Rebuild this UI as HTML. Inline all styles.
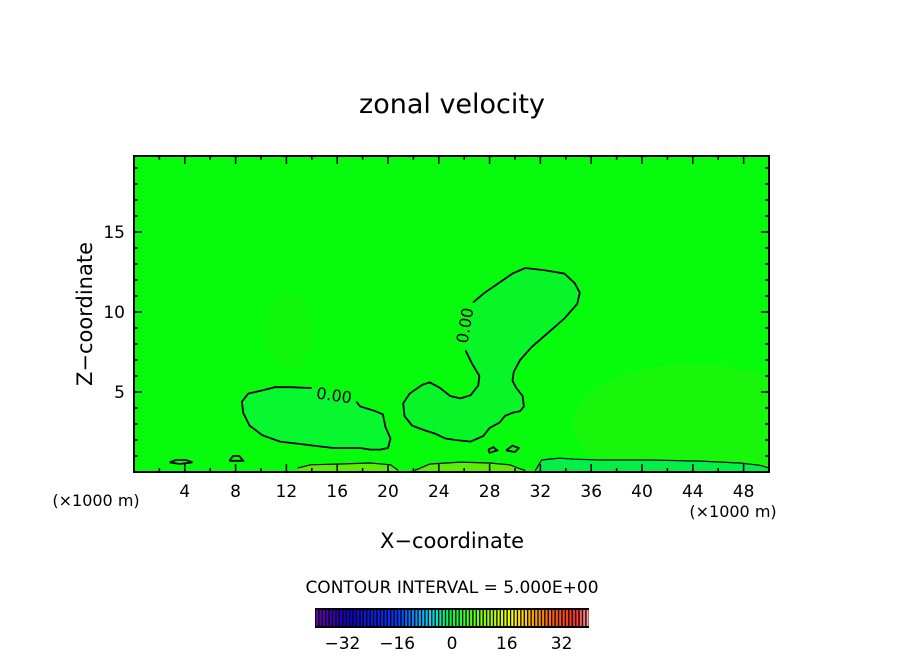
<!DOCTYPE html>
<html><head><meta charset="utf-8"><style>
body{margin:0;background:#fff;}
svg text{font-family:"DejaVu Sans","Liberation Sans",sans-serif;fill:#000;}
</style></head><body>
<svg id="c" width="904" height="654" viewBox="0 0 904 654" xmlns="http://www.w3.org/2000/svg">
<defs><clipPath id="pc"><rect x="134" y="156" width="635" height="316"/></clipPath></defs>
<text x="452" y="113" font-size="27" text-anchor="middle">zonal velocity</text>
<g id="plot"><g id="inner" clip-path="url(#pc)"></g></g>
<text x="452" y="548" font-size="21" text-anchor="middle">X−coordinate</text>
<text transform="translate(92,314) rotate(-90)" font-size="21" text-anchor="middle">Z−coordinate</text>
<text x="96" y="506" font-size="16" text-anchor="middle">(×1000 m)</text>
<text x="733" y="517" font-size="16" text-anchor="middle">(×1000 m)</text>
<text x="452" y="593" font-size="17" text-anchor="middle">CONTOUR INTERVAL = 5.000E+00</text>
<g id="cbar"></g>
</svg>
<script>
const xTicks=[4,8,12,16,20,24,28,32,36,40,44,48];
const yTicks=[5,10,15];
const cbarTicks=[-32,-16,0,16,32];
const xRange=[0,50], zRange=[0,19.75];
// contour lines (data coords: x km, z km), value 0.00
const blobLeft=[[17.5,4.4],[17.8,4.1],[19.0,3.8],[19.6,3.6],[19.8,2.8],[20.2,2.1],[20.0,1.5],[19.4,1.4],[18.6,1.4],[17.8,1.5],[16.6,1.5],[15.7,1.5],[14.6,1.6],[13.1,1.75],[11.5,1.9],[10.1,2.3],[9.1,2.9],[8.6,3.7],[8.5,4.4],[9.0,4.9],[10.1,5.1],[11.1,5.3],[12.3,5.3],[13.9,5.25],[14.0,5.25]];
const blobRight=[[26.1,7.6],[26.6,6.8],[27.2,6.0],[27.1,5.4],[26.5,4.8],[25.7,4.6],[24.9,4.75],[24.1,5.25],[23.3,5.6],[22.7,5.45],[21.7,4.9],[21.2,4.3],[21.3,3.5],[21.9,2.9],[22.9,2.6],[23.7,2.4],[24.5,2.1],[25.3,2.0],[26.5,1.9],[27.5,2.25],[28.0,2.75],[28.8,3.1],[29.2,3.5],[29.8,3.7],[30.4,3.8],[30.7,4.1],[30.6,4.75],[30.1,5.25],[29.8,5.7],[29.9,6.25],[30.4,7.0],[31.3,7.8],[32.6,8.7],[33.9,9.6],[34.9,10.5],[35.1,11.2],[34.7,11.8],[33.9,12.4],[32.4,12.6],[30.8,12.75],[29.8,12.4],[28.7,11.8],[27.6,11.2],[26.7,10.6]];
const bottomLow=[[12.9,0.25],[13.9,0.45],[16.2,0.5],[18.6,0.56],[20.2,0.45],[20.8,0.1]];
const bottomMid=[[22.1,0.1],[23.3,0.5],[25.7,0.62],[28.0,0.56],[29.6,0.45],[30.4,0.2],[30.8,0.1]];
const bottomRight=[[31.6,0.1],[32.1,0.75],[33.5,0.87],[34.7,0.8],[36.7,0.75],[40.6,0.75],[44.6,0.68],[47.7,0.56],[49.3,0.42],[50,0.25]];
const smallA=[[2.8,0.6],[3.3,0.75],[4.1,0.75],[4.6,0.6],[3.6,0.5],[2.8,0.6]];
const smallB=[[7.5,0.7],[7.8,1.0],[8.3,1.0],[8.6,0.7],[7.5,0.7]];
const smallC=[[27.9,1.4],[28.3,1.55],[28.6,1.35],[28.0,1.2],[27.9,1.4]];
const smallD=[[29.3,1.35],[29.8,1.65],[30.3,1.5],[30.0,1.25],[29.3,1.35]];

const NS='http://www.w3.org/2000/svg';
const L=134,R=769,T=156,B=472;
const sx=v=>L+(v-xRange[0])/(xRange[1]-xRange[0])*(R-L);
const sz=v=>B-(v-zRange[0])/(zRange[1]-zRange[0])*(B-T);
function mk(tag,attrs,parent){const e=document.createElementNS(NS,tag);for(const k in attrs)e.setAttribute(k,attrs[k]);parent.appendChild(e);return e;}
const plot=document.getElementById('plot');
const inner=document.getElementById('inner');
const bg=mk('rect',{x:L,y:T,width:R-L,height:B-T,fill:'#06fb0c'},inner);


function pathD(pts,close){return pts.map((p,i)=>(i?'L':'M')+sx(p[0]).toFixed(1)+','+sz(p[1]).toFixed(1)).join('')+(close?'Z':'');}
function fillUnder(pts,color,name){
  const d=pathD(pts,false)+'L'+sx(pts[pts.length-1][0])+','+B+'L'+sx(pts[0][0])+','+B+'Z';
  const p=mk('path',{d:d,fill:color},inner);
  
  
}
const sh1=mk('ellipse',{cx:sx(12.2),cy:sz(8.8),rx:24,ry:38,fill:'#1cf40c',opacity:0.5},inner);


const sh2=mk('ellipse',{cx:sx(44),cy:sz(3),rx:120,ry:60,fill:'#2ef20a',opacity:0.45},inner);


const inL=mk('path',{d:pathD(blobLeft,true),fill:'#08f830'},inner);


const inR=mk('path',{d:pathD(blobRight,true),fill:'#08f628'},inner);


fillUnder(bottomLow,'#5cee08','region-bottom-low');
fillUnder(bottomMid,'#5cee08','region-bottom-mid');
fillUnder(bottomRight,'#04ee48','region-bottom-right');
[[blobLeft,'contour-left'],[blobRight,'contour-right'],[bottomLow,'contour-bottom-low'],[bottomMid,'contour-bottom-mid'],[bottomRight,'contour-bottom-right'],[smallA,'contour-small'],[smallB,'contour-small'],[smallC,'contour-small'],[smallD,'contour-small']].forEach(c=>{
  const p=mk('path',{d:pathD(c[0],false),fill:'none',stroke:'#000','stroke-width':(c[1].startsWith('contour-bottom')?1.2:1.8)},inner);
  
  
});
const lab1=mk('text',{x:sx(15.7),y:sz(4.45),'font-size':16,'text-anchor':'middle',transform:`rotate(8 ${sx(15.7)} ${sz(4.45)})`},inner);
lab1.textContent='0.00';


const lab2=mk('text',{x:sx(26.1)+5,y:sz(9.1),'font-size':16,'text-anchor':'middle',transform:`rotate(-80 ${sx(26.1)+5} ${sz(9.1)})`},inner);
lab2.textContent='0.00';


const fr=mk('rect',{x:L,y:T,width:R-L,height:B-T,fill:'none',stroke:'#000','stroke-width':2},plot);


for(let v=2;v<50;v+=2){const maj=xTicks.includes(v);const len=maj?8:4;
  const t1=mk('line',{x1:sx(v),x2:sx(v),y1:B,y2:B-len,stroke:'#000','stroke-width':1.5},plot);
  
  
  const t2=mk('line',{x1:sx(v),x2:sx(v),y1:T,y2:T+len,stroke:'#000','stroke-width':1.5},plot);
  
  }
xTicks.forEach(v=>{const t=mk('text',{x:sx(v),y:B+25,'font-size':17,'text-anchor':'middle'},plot);t.textContent=v;
  
  });
for(let v=1;v<20;v++){const maj=yTicks.includes(v);const len=maj?8:4;
  const t1=mk('line',{x1:L,x2:L+len,y1:sz(v),y2:sz(v),stroke:'#000','stroke-width':1.5},plot);
  
  
  const t2=mk('line',{x1:R,x2:R-len,y1:sz(v),y2:sz(v),stroke:'#000','stroke-width':1.5},plot);
  
  }
yTicks.forEach(v=>{const t=mk('text',{x:L-9,y:sz(v)+6,'font-size':17,'text-anchor':'end'},plot);t.textContent=v;
  
  });
const cb=document.getElementById('cbar');
const cL=315,cR=589,cT=608,cB=628,cMin=-40,cMax=40;
const cx=v=>cL+(v-cMin)/(cMax-cMin)*(cR-cL);
const cbg=mk('rect',{x:cL,y:cT,width:cR-cL,height:cB-cT,fill:'#000'},cb);


function col(v){const t=(v-cMin)/(cMax-cMin);
  const stops=[[0,[110,0,170]],[0.12,[20,0,200]],[0.3,[0,60,255]],[0.42,[0,220,255]],[0.5,[0,255,60]],[0.6,[120,255,0]],[0.72,[255,255,0]],[0.85,[255,110,0]],[0.95,[255,40,40]],[1,[255,170,170]]];
  for(let i=1;i<stops.length;i++){if(t<=stops[i][0]){const a=stops[i-1],b=stops[i];const f=(t-a[0])/(b[0]-a[0]);return 'rgb('+a[1].map((c,k)=>Math.round(c+(b[1][k]-c)*f)).join(',')+')';}}
  return 'rgb(255,170,170)';}
for(let v=cMin;v<cMax;v+=1){const r=mk('rect',{x:cx(v)+1,y:cT+2,width:(cR-cL)/80-1.3,height:cB-cT-4,fill:col(v+0.5)},cb);
  
  }
cbarTicks.forEach(v=>{const t=mk('text',{x:cx(v),y:649,'font-size':17,'text-anchor':'middle'},cb);t.textContent=(v<0?'−'+(-v):v);
  
  });
</script>
</body></html>
